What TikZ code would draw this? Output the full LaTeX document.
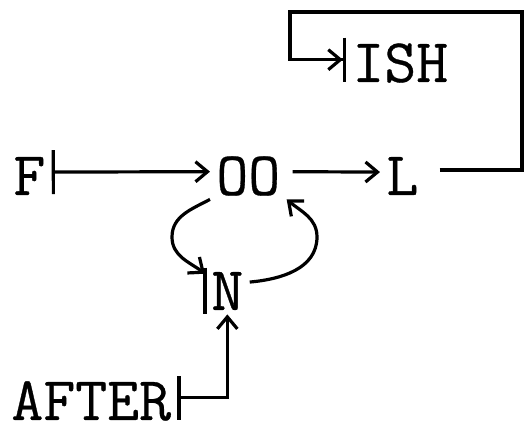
\documentclass[tikz,border=0pt]{standalone}
\usepackage{fontspec}
\setmonofont{Latin Modern Mono}[FakeBold=0.5]
\usepackage{tikz}
\usetikzlibrary{arrows.meta, positioning, calc}

\begin{document}
\begin{tikzpicture}[
    x=0.5pt, y=-0.5pt,
    % Styles
    word/.style={anchor=base west, inner xsep=3pt, inner ysep=2pt, text depth=0pt, font=\fontsize{31}{31}\selectfont\ttfamily},
    wire/.style={line width=1.6pt},
    arrow/.style={wire, -{Straight Barb[length=6pt, width=10pt]}},
    fromstop/.style={wire, {Bar[width=22pt]}-{Straight Barb[length=6pt, width=10pt]}},
    tostop/.style={wire, -{Straight Barb[length=6pt, width=10pt] Bar[width=22pt]}}
]
    \useasboundingbox (0,0) rectangle (527,433);

    % --- Words ---
    \node[word] (F) at (7,195) {F};
    \node[word] (OO) at (210,195) {OO};
    \node[word] (L) at (380,195) {L};
    \node[word] (ISH) at (346,82) {ISH};
    \node[word] (N) at (205,310) {N};
    \node[word] (AFTER) at (5,420) {AFTER};

    % corners of the return line
    \coordinate (ne) at (522,12);
    \coordinate (nw) at (290,12);
    % outer points of the loop
    \coordinate (loopL) at (172,237);
    \coordinate (loopR) at (317,237);

    % --- Main line ---
    \draw[fromstop] ([yshift=2pt]F.east) -- ([yshift=2pt]OO.west);
    \draw[arrow, shorten <=3pt] ([yshift=2pt]OO.east) -- ([yshift=2pt]L.west);
    \draw[tostop, shorten <=7.5pt] ([yshift=3pt]L.east) -- ([yshift=3pt]L.east -| ne) |- (nw) |- ([yshift=1.5pt]ISH.west);

    % --- Loop between OO and N ---
    \draw[wire] (N.north west) -- (N.south west);
    \draw[arrow] (OO.south west) to[out=208, in=90] (loopL) to[out=-90, in=143] ([yshift=-3pt]N.north west);
    \draw[arrow] ([yshift=4.5pt]N.east) to[out=5, in=-90] (loopR) to[out=90, in=-40] (OO.south east);

    % --- AFTER into N ---
    \draw[fromstop] ([yshift=1.5pt]AFTER.east) -| (N.south);

\end{tikzpicture}
\end{document}
